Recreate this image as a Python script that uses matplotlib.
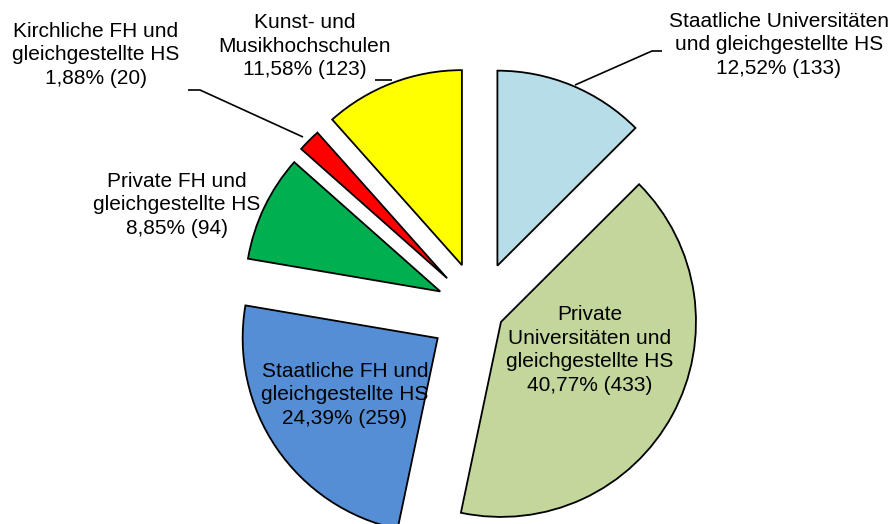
import matplotlib
matplotlib.use("Agg")
import matplotlib.pyplot as plt

categories = [
    "Staatliche Universitäten\nund gleichgestellte HS",
    "Private\nUniversitäten und\ngleichgestellte HS",
    "Staatliche FH und\ngleichgestellte HS",
    "Private FH und\ngleichgestellte HS",
    "Kirchliche FH und\ngleichgestellte HS",
    "Kunst- und\nMusikhochschulen",
]
counts = [133, 433, 259, 94, 20, 123]
percent_labels = ["12,52%", "40,77%", "24,39%", "8,85%", "1,88%", "11,58%"]
colors = ["#B7DEE8", "#C3D69B", "#558ED5", "#00B050", "#FF0000", "#FFFF00"]
explode = [48, 25, 50, 43, 45, 48]

W, H = 892, 524
fig = plt.figure(figsize=(W / 100, H / 100), dpi=100)
ax = fig.add_axes([0, 0, 1, 1])

plt.rcParams["font.family"] = ["Liberation Sans", "DejaVu Sans"]

ax.pie(counts, colors=colors, explode=explode, startangle=90, counterclock=False,
       radius=195, center=(479, H - 310),
       wedgeprops=dict(edgecolor="black", linewidth=1.3), frame=True)
ax.set_xlim(0, W)
ax.set_ylim(0, H)
ax.set_aspect("equal")
ax.axis("off")

labels = [f"{c}\n{p} ({n})" for c, p, n in zip(categories, percent_labels, counts)]
label_pos = [(779, 45), (590, 350), (345, 395), (177, 205), (96, 55), (305, 46)]
fs = 15
for lab, (x, y) in zip(labels, label_pos):
    ax.text(x, H - y, lab, ha="center", va="center", fontsize=fs,
            family=["Liberation Sans", "DejaVu Sans"], linespacing=1.3)

# leader lines (pixel coordinates)
leaders = [
    [(575, 85), (652, 51), (662, 51)],
    [(303, 137), (200, 90), (188, 90)],
    [(392, 80), (375, 80)],
]
for pts in leaders:
    xs = [p[0] for p in pts]
    ys = [H - p[1] for p in pts]
    ax.plot(xs, ys, color="black", linewidth=1.2, solid_capstyle="butt")

fig.savefig("out.png", dpi=100)
